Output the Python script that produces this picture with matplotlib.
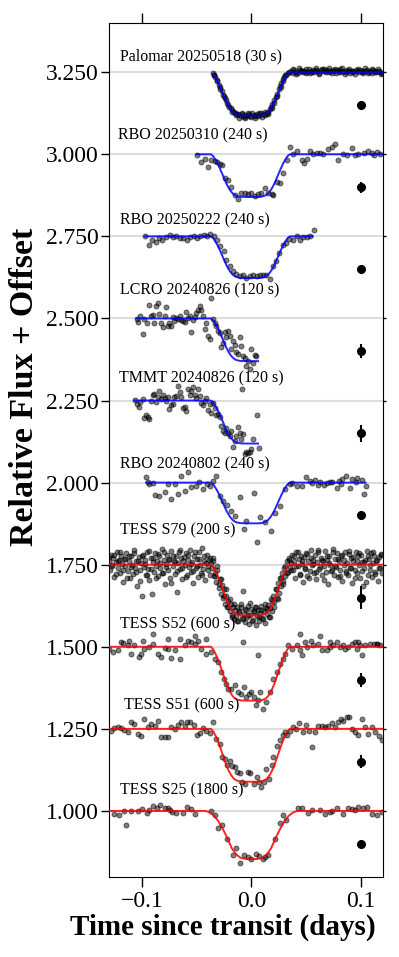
import numpy as np
import matplotlib
matplotlib.use("Agg")
import matplotlib.pyplot as plt

# ---------------- data ----------------
names = ["Palomar 20250518 (30 s)", "RBO 20250310 (240 s)", "RBO 20250222 (240 s)",
         "LCRO 20240826 (120 s)", "TMMT 20240826 (120 s)", "RBO 20240802 (240 s)",
         "TESS S79 (200 s)", "TESS S52 (600 s)", "TESS S51 (600 s)", "TESS S25 (1800 s)"]
offsets = [2.25, 2.0, 1.75, 1.5, 1.25, 1.0, 0.75, 0.5, 0.25, 0.0]
depths = [0.132, 0.130, 0.127, 0.130, 0.131, 0.124, 0.155, 0.164, 0.161, 0.147]
model_start = [-0.035, -0.050, -0.097, -0.105, -0.107, -0.096, -0.130, -0.130, -0.130, -0.130]
model_end = [0.120, 0.120, 0.056, 0.006, 0.006, 0.104, 0.120, 0.120, 0.120, 0.120]
typical_err = [0.003, 0.017, 0.008, 0.021, 0.025, 0.013, 0.034, 0.021, 0.020, 0.006]

# transit shape (fraction of depth) for short cadence and for 1800 s cadence
sharp_x = [-0.130, -0.107, -0.105, -0.097, -0.096, -0.050, -0.037, -0.035, -0.033, -0.031,
           -0.029, -0.027, -0.025, -0.023, -0.021, -0.019, -0.017, -0.015, -0.013, -0.010,
           -0.005, 0.000, 0.004, 0.006, 0.009, 0.011, 0.013, 0.015, 0.017, 0.019,
           0.021, 0.023, 0.025, 0.027, 0.029, 0.031, 0.033, 0.035, 0.056, 0.104, 0.120]
sharp_f = [0, 0, 0, 0, 0, 0, 0.0, 0.04, 0.12, 0.21,
           0.32, 0.44, 0.56, 0.68, 0.78, 0.86, 0.92, 0.96, 0.98, 0.995,
           1.0, 1.0, 1.0, 1.0, 0.995, 0.98, 0.96, 0.92, 0.86, 0.78,
           0.68, 0.56, 0.44, 0.32, 0.21, 0.12, 0.04, 0.0, 0, 0, 0]
smooth_x = [-0.130, -0.042, -0.038, -0.034, -0.030, -0.026, -0.022, -0.018, -0.014, -0.010,
            -0.005, 0.000, 0.005, 0.010, 0.014, 0.018, 0.022, 0.026, 0.030, 0.034,
            0.038, 0.042, 0.120]
smooth_f = [0, 0, 0.03, 0.10, 0.22, 0.38, 0.56, 0.77, 0.90, 0.97,
            0.995, 1.0, 0.995, 0.97, 0.90, 0.77, 0.56, 0.38, 0.22, 0.10,
            0.03, 0, 0]

pal_t = [-0.035, -0.034, -0.033, -0.031, -0.030, -0.029, -0.027, -0.026, -0.025, -0.023,
         -0.022, -0.021, -0.019, -0.018, -0.016, -0.015, -0.013,
         -0.012, -0.010, -0.009, -0.007, -0.006, -0.004, -0.003, -0.001, 0.000, 0.002,
         0.003, 0.005, 0.006, 0.008, 0.009, 0.011, 0.012,
         0.014, 0.015, 0.017, 0.018, 0.019, 0.021, 0.022, 0.023, 0.025, 0.026,
         0.027, 0.029, 0.030, 0.031, 0.033, 0.034,
         0.036, 0.038, 0.039, 0.041, 0.042, 0.044, 0.045, 0.047, 0.048, 0.050,
         0.051, 0.053, 0.054, 0.056, 0.057, 0.059, 0.060, 0.062, 0.063, 0.065,
         0.066, 0.068, 0.069, 0.071, 0.072, 0.074, 0.075, 0.077, 0.078, 0.080,
         0.081, 0.083, 0.084, 0.086, 0.087, 0.089, 0.090, 0.092, 0.093, 0.095,
         0.096, 0.098, 0.099, 0.101, 0.102, 0.104, 0.105, 0.107, 0.108, 0.110,
         0.111, 0.113, 0.114, 0.116, 0.117, 0.119,
         -0.0345, -0.0315, -0.0285, -0.0245, -0.0205, -0.0175, -0.0145,
         -0.0115, -0.0085, -0.0055, -0.0025, 0.0005, 0.0035, 0.0065, 0.0095, 0.0125,
         0.0155, 0.0185, 0.0205, 0.0235, 0.0265, 0.0285, 0.0315,
         0.0375, 0.0405, 0.0435, 0.0465, 0.0495, 0.0525, 0.0555, 0.0585, 0.0615, 0.0645,
         0.0675, 0.0705, 0.0735, 0.0765, 0.0795, 0.0825, 0.0855, 0.0885, 0.0915, 0.0945,
         0.0975, 0.1005, 0.1035, 0.1065, 0.1095, 0.1125, 0.1155, 0.1185]
pal_f = [0.997, 0.990, 0.985, 0.972, 0.962, 0.955, 0.942, 0.930, 0.928, 0.915,
         0.905, 0.900, 0.890, 0.884, 0.880, 0.876, 0.872,
         0.874, 0.866, 0.872, 0.864, 0.870, 0.867, 0.875, 0.868, 0.863, 0.871,
         0.866, 0.874, 0.868, 0.870, 0.876, 0.872, 0.878,
         0.876, 0.880, 0.888, 0.895, 0.902, 0.915, 0.925, 0.935, 0.948, 0.958,
         0.966, 0.978, 0.985, 0.992, 0.998, 1.001,
         1.004, 0.998, 1.006, 1.002, 0.999, 1.007, 1.003, 1.000, 1.005, 1.009,
         1.002, 0.998, 1.004, 1.008, 1.001, 1.006, 1.003, 0.999, 1.007, 1.004,
         1.010, 1.002, 1.006, 1.000, 1.005, 1.008, 1.003, 0.999, 1.006, 1.004,
         1.009, 1.002, 1.005, 1.001, 1.007, 1.003, 0.998, 1.005, 1.002, 1.008,
         1.004, 1.000, 1.006, 1.003, 0.999, 1.005, 1.008, 1.002, 1.004, 0.998,
         1.006, 1.003, 1.000, 1.005, 1.002, 0.998,
         0.992, 0.976, 0.950, 0.920, 0.893, 0.878, 0.870,
         0.862, 0.876, 0.861, 0.872, 0.877, 0.860, 0.875, 0.864, 0.870,
         0.872, 0.890, 0.905, 0.928, 0.955, 0.972, 0.990,
         1.010, 0.996, 1.012, 1.004, 0.997, 1.011, 1.000, 1.013, 0.996, 1.010,
         1.004, 1.012, 0.997, 1.010, 1.000, 1.013, 0.996, 1.010, 1.004, 0.996,
         1.011, 1.000, 1.012, 0.997, 1.010, 1.002, 1.011, 0.995]

rbo0310_t = [-0.0497, -0.0464, -0.0427, -0.0396, -0.0366, -0.0335, -0.0314, -0.0290, -0.0265, -0.0244,
             -0.0213, -0.0183, -0.0152, -0.0122, -0.0091, -0.0061, -0.0030, 0.0000, 0.0030, 0.0061,
             0.0091, 0.0122, 0.0152, 0.0183, 0.0198, 0.0229, 0.0259, 0.0290, 0.0320, 0.0351,
             0.0381, 0.0412, 0.0457, 0.0479, 0.0503, 0.0534, 0.0564, 0.0595, 0.0625, 0.0650,
             0.0701, 0.0732, 0.0762, 0.0793, 0.0839, 0.0869, 0.0915, 0.0945, 0.0976, 0.1022,
             0.1067, 0.1098, 0.1113, 0.1144, 0.1174]
rbo0310_f = [0.997, 0.977, 0.987, 0.962, 0.982, 0.980, 0.977, 0.969, 0.967, 0.929,
             0.923, 0.901, 0.875, 0.865, 0.883, 0.881, 0.878, 0.883, 0.872, 0.878,
             0.883, 0.896, 0.883, 0.878, 0.875, 0.916, 0.913, 0.943, 0.982, 1.022,
             1.002, 1.010, 0.982, 0.974, 0.987, 1.009, 1.002, 1.004, 1.004, 1.002,
             1.017, 1.022, 1.030, 0.984, 1.002, 0.999, 1.020, 0.997, 1.002, 1.004,
             1.010, 1.004, 0.997, 1.007, 1.002]

rbo0222_t = [-0.0967, -0.0936, -0.0906, -0.0875, -0.0845, -0.0814, -0.0784, -0.0747, -0.0717, -0.0686,
             -0.0656, -0.0625, -0.0589, -0.0558, -0.0528, -0.0497, -0.0467, -0.0436, -0.0406, -0.0375,
             -0.0345, -0.0314, -0.0284, -0.0253, -0.0229, -0.0198, -0.0168, -0.0137, -0.0107, -0.0076,
             -0.0046, -0.0015, 0.0015, 0.0046, 0.0076, 0.0107, 0.0137, 0.0168, 0.0192, 0.0223,
             0.0253, 0.0284, 0.0314, 0.0345, 0.0381, 0.0412, 0.0442, 0.0473, 0.0503, 0.0534,
             0.0570]
rbo0222_f = [1.000, 0.974, 0.990, 0.984, 0.995, 0.988, 0.998, 1.003, 0.998, 1.000,
             0.995, 0.995, 0.990, 0.998, 1.000, 0.995, 1.002, 1.005, 1.000, 1.008,
             1.000, 0.990, 0.970, 0.954, 0.929, 0.909, 0.894, 0.884, 0.878, 0.881,
             0.873, 0.878, 0.881, 0.878, 0.881, 0.883, 0.881, 0.870, 0.909, 0.924,
             0.949, 0.975, 0.980, 0.992, 0.988, 1.002, 0.990, 0.998, 0.998, 1.002,
             1.020]

lcro_t = [-0.1046, -0.1037, -0.1013, -0.0991, -0.0976, -0.0952, -0.0937, -0.0915, -0.0900, -0.0885,
          -0.0870, -0.0854, -0.0839, -0.0824, -0.0809, -0.0793, -0.0778, -0.0763, -0.0748, -0.0732,
          -0.0717, -0.0702, -0.0687, -0.0671, -0.0656, -0.0641, -0.0625, -0.0610, -0.0595, -0.0580,
          -0.0564, -0.0549, -0.0534, -0.0519, -0.0503, -0.0488, -0.0473, -0.0458, -0.0442, -0.0427,
          -0.0412, -0.0397, -0.0381, -0.0366, -0.0351, -0.0336, -0.0320, -0.0305, -0.0290, -0.0275,
          -0.0260, -0.0244, -0.0229, -0.0214, -0.0199, -0.0183, -0.0168, -0.0153, -0.0138, -0.0122,
          -0.0107, -0.0092, -0.0077, -0.0061, -0.0046, -0.0031, -0.0015, 0.0000, 0.0015, 0.0030,
          0.0045]
lcro_f = [0.999, 0.990, 1.007, 0.954, 0.997, 0.987, 1.042, 1.009, 1.012, 0.987,
          1.039, 1.047, 1.015, 0.987, 0.974, 1.007, 1.035, 0.978, 0.985, 0.978,
          1.005, 0.992, 1.002, 0.999, 1.009, 0.995, 0.992, 0.990, 1.019, 1.002,
          1.009, 0.958, 0.995, 1.005, 1.017, 1.027, 1.039, 1.025, 1.007, 0.968,
          0.987, 0.948, 0.938, 1.062, 0.999, 0.987, 0.978, 0.961, 0.956, 0.914,
          0.926, 0.958, 0.944, 0.961, 0.946, 0.906, 0.931, 0.918, 0.897, 0.893,
          0.944, 0.916, 0.885, 0.880, 0.855, 0.870, 0.845, 0.906, 0.863, 0.890,
          0.885]

tmmt_t = [-0.1062, -0.1043, -0.1028, -0.1013, -0.0991, -0.0976, -0.0961, -0.0946, -0.0930, -0.0915,
          -0.0900, -0.0885, -0.0870, -0.0854, -0.0839, -0.0824, -0.0809, -0.0793, -0.0778, -0.0763,
          -0.0748, -0.0732, -0.0717, -0.0702, -0.0687, -0.0671, -0.0656, -0.0641, -0.0625, -0.0610,
          -0.0595, -0.0580, -0.0564, -0.0549, -0.0534, -0.0519, -0.0503, -0.0488, -0.0473, -0.0458,
          -0.0442, -0.0427, -0.0412, -0.0397, -0.0381, -0.0366, -0.0351, -0.0336, -0.0320, -0.0305,
          -0.0290, -0.0275, -0.0260, -0.0244, -0.0229, -0.0214, -0.0199, -0.0183, -0.0168, -0.0153,
          -0.0138, -0.0122, -0.0107, -0.0092, -0.0077, -0.0061, -0.0046, -0.0031, -0.0015, 0.0000,
          0.0015, 0.0055, 0.0067, -0.0083]
tmmt_f = [1.002, 0.988, 0.981, 0.996, 1.006, 0.948, 0.955, 0.951, 0.943, 0.999,
          1.016, 1.019, 0.996, 1.012, 1.029, 1.004, 1.016, 1.009, 0.999, 1.012,
          0.973, 0.985, 0.988, 1.012, 1.014, 1.044, 1.026, 1.012, 0.978, 0.981,
          0.968, 1.034, 1.016, 1.029, 1.042, 1.016, 1.009, 1.034, 1.014, 0.994,
          0.985, 0.999, 1.009, 0.971, 0.988, 0.963, 0.991, 0.978, 0.955, 0.958,
          0.951, 0.921, 0.907, 0.900, 0.915, 0.902, 0.892, 0.907, 0.857, 0.877,
          0.892, 0.918, 0.902, 0.884, 0.897, 0.837, 0.842, 0.840, 0.844, 0.852,
          0.882, 0.955, 0.854, 1.036]

rbo0802_t = [-0.0961, -0.0940, -0.0930, -0.0900, -0.0884, -0.0839, -0.0793, -0.0760, -0.0732, -0.0701,
             -0.0671, -0.0640, -0.0610, -0.0579, -0.0549, -0.0503, -0.0480, -0.0442, -0.0410, -0.0381,
             -0.0350, -0.0320, -0.0290, -0.0259, -0.0223, -0.0183, -0.0152, -0.0107, -0.0070, -0.0046,
             0.0021, 0.0046, 0.0076, 0.0122, 0.0174, 0.0213, 0.0259, 0.0305, 0.0351, 0.0366,
             0.0412, 0.0457, 0.0497, 0.0534, 0.0550, 0.0579, 0.0610, 0.0625, 0.0660, 0.0686,
             0.0717, 0.0732, 0.0778, 0.0800, 0.0820, 0.0823, 0.0863, 0.0900, 0.0915, 0.0950,
             0.0961, 0.1006, 0.1028, 0.1046]
rbo0802_f = [1.016, 1.003, 0.995, 1.000, 0.962, 0.958, 0.970, 0.995, 0.950, 0.997,
             0.965, 1.021, 0.975, 1.033, 0.988, 0.990, 1.002, 0.980, 0.997, 0.990,
             1.005, 1.021, 0.960, 0.945, 0.932, 0.914, 0.899, 0.955, 0.859, 0.884,
             0.968, 0.818, 0.894, 0.879, 0.854, 0.909, 0.930, 0.980, 0.995, 0.998,
             0.990, 0.990, 1.016, 1.006, 1.000, 1.009, 0.992, 1.001, 0.994, 0.998,
             1.001, 1.003, 0.985, 1.006, 0.997, 1.011, 1.019, 0.985, 1.011, 1.002,
             1.013, 1.009, 0.965, 0.990]

s79_t = [-0.130, -0.129, -0.128, -0.127, -0.126, -0.125, -0.124, -0.123, -0.122, -0.121,
         -0.120, -0.119, -0.118, -0.117, -0.116, -0.115, -0.114, -0.113, -0.112, -0.111,
         -0.110, -0.109, -0.108, -0.107, -0.106, -0.105, -0.104, -0.103, -0.102, -0.101,
         -0.100, -0.099, -0.098, -0.097, -0.096, -0.095, -0.094, -0.093, -0.092, -0.091,
         -0.090, -0.089, -0.088, -0.087, -0.086, -0.085, -0.084, -0.083, -0.082, -0.081,
         -0.080, -0.079, -0.078, -0.077, -0.076, -0.075, -0.074, -0.073, -0.072, -0.071,
         -0.070, -0.069, -0.068, -0.067, -0.066, -0.065, -0.064, -0.063, -0.062, -0.061,
         -0.060, -0.059, -0.058, -0.057, -0.056, -0.055, -0.054, -0.053, -0.052, -0.051,
         -0.050, -0.049, -0.048, -0.047, -0.046, -0.045, -0.044, -0.043, -0.042, -0.041,
         -0.040, -0.039, -0.038, -0.037, -0.036, -0.035, -0.034, -0.033, -0.032, -0.031,
         -0.030, -0.029, -0.028, -0.027, -0.026, -0.025, -0.024, -0.023, -0.022, -0.021,
         -0.020, -0.019, -0.018, -0.017, -0.016, -0.015, -0.014, -0.013, -0.012, -0.011,
         -0.010, -0.009, -0.008, -0.007, -0.006, -0.005, -0.004, -0.003, -0.002, -0.001,
         0.000, 0.001, 0.002, 0.003, 0.004, 0.005, 0.006, 0.007, 0.008, 0.009,
         0.010, 0.011, 0.012, 0.013, 0.014, 0.015, 0.016, 0.017, 0.018, 0.019,
         0.020, 0.021, 0.022, 0.023, 0.024, 0.025, 0.026, 0.027, 0.028, 0.029,
         0.030, 0.031, 0.032, 0.033, 0.034, 0.035, 0.036, 0.037, 0.038, 0.039,
         0.040, 0.041, 0.042, 0.043, 0.044, 0.045, 0.046, 0.047, 0.048, 0.049,
         0.050, 0.051, 0.052, 0.053, 0.054, 0.055, 0.056, 0.057, 0.058, 0.059,
         0.060, 0.061, 0.062, 0.063, 0.064, 0.065, 0.066, 0.067, 0.068, 0.069,
         0.070, 0.071, 0.072, 0.073, 0.074, 0.075, 0.076, 0.077, 0.078, 0.079,
         0.080, 0.081, 0.082, 0.083, 0.084, 0.085, 0.086, 0.087, 0.088, 0.089,
         0.090, 0.091, 0.092, 0.093, 0.094, 0.095, 0.096, 0.097, 0.098, 0.099,
         0.100, 0.101, 0.102, 0.103, 0.104, 0.105, 0.106, 0.107, 0.108, 0.109,
         0.110, 0.111, 0.112, 0.113, 0.114, 0.115, 0.116, 0.117, 0.118, 0.119,
         # second folded transit
         -0.1295, -0.1275, -0.1255, -0.1235, -0.1215, -0.1195, -0.1175, -0.1155, -0.1135, -0.1115,
         -0.1095, -0.1075, -0.1055, -0.1035, -0.1015, -0.0995, -0.0975, -0.0955, -0.0935, -0.0915,
         -0.0895, -0.0875, -0.0855, -0.0835, -0.0815, -0.0795, -0.0775, -0.0755, -0.0735, -0.0715,
         -0.0695, -0.0675, -0.0655, -0.0635, -0.0615, -0.0595, -0.0575, -0.0555, -0.0535, -0.0515,
         -0.0495, -0.0475, -0.0455, -0.0435, -0.0415, -0.0395, -0.0375,
         -0.0355, -0.0335, -0.0315, -0.0295, -0.0275, -0.0255, -0.0235, -0.0215, -0.0195, -0.0175,
         -0.0155, -0.0135,
         -0.0115, -0.0095, -0.0075, -0.0055, -0.0035, -0.0015, 0.0005, 0.0025, 0.0045, 0.0065,
         0.0085, 0.0105, 0.0125,
         0.0145, 0.0165, 0.0185, 0.0205, 0.0225, 0.0245, 0.0265, 0.0285, 0.0305, 0.0325, 0.0345,
         0.0365, 0.0385, 0.0405, 0.0425, 0.0445, 0.0465, 0.0485, 0.0505, 0.0525, 0.0545,
         0.0565, 0.0585, 0.0605, 0.0625, 0.0645, 0.0665, 0.0685, 0.0705, 0.0725, 0.0745,
         0.0765, 0.0785, 0.0805, 0.0825, 0.0845, 0.0865, 0.0885, 0.0905, 0.0925, 0.0945,
         0.0965, 0.0985, 0.1005, 0.1025, 0.1045, 0.1065, 0.1085, 0.1105, 0.1125, 0.1145,
         0.1165, 0.1185]
s79_f = [1.012, 0.985, 1.031, 0.998, 1.020, 0.962, 1.008, 1.040, 0.990, 1.015,
         0.975, 1.025, 1.003, 0.948, 1.018, 0.995, 1.035, 0.980, 1.010, 0.958,
         1.028, 1.000, 0.972, 1.045, 0.990, 1.012, 0.935, 1.022, 0.983, 1.005,
         0.905, 1.030, 0.992, 1.015, 0.968, 1.040, 0.986, 0.952, 1.020, 0.910,
         1.008, 0.978, 1.036, 0.995, 1.012, 0.965, 1.025, 0.990, 1.048, 0.975,
         1.015, 0.940, 1.002, 1.030, 0.985, 1.018, 0.960, 1.042, 0.995, 1.010,
         0.972, 1.028, 0.918, 1.005, 1.038, 0.988, 1.020, 0.955, 1.012, 0.998,
         1.035, 0.968, 1.015, 0.992, 1.045, 0.978, 1.008, 0.945, 1.025, 0.990,
         1.018, 0.962, 1.038, 1.000, 0.975, 1.050, 0.988, 1.012, 0.952, 1.030,
         0.995, 1.015, 0.970, 1.005, 0.990, 1.020, 0.965, 0.975, 0.948, 0.995,
         0.930, 0.955, 0.912, 0.938, 0.900, 0.925, 0.880, 0.905, 0.872, 0.890,
         0.858, 0.880, 0.848, 0.870, 0.835, 0.862, 0.845, 0.870, 0.828, 0.855,
         0.880, 0.838, 0.921, 0.850, 0.825, 0.862, 0.840, 0.875, 0.818, 0.848,
         0.865, 0.832, 0.858, 0.872, 0.815, 0.845, 0.862, 0.830, 0.852, 0.875,
         0.838, 0.860, 0.822, 0.868, 0.850, 0.878, 0.842, 0.868, 0.895, 0.860,
         0.905, 0.885, 0.925, 0.900, 0.945, 0.915, 0.960, 0.935, 0.975, 0.950,
         0.990, 0.965, 1.010, 0.978, 1.020, 0.992, 1.005, 1.030, 0.985, 1.012,
         0.960, 1.040, 0.995, 1.018, 0.972, 1.028, 1.002, 0.948, 1.022, 0.990,
         1.035, 0.965, 1.010, 0.982, 1.045, 0.998, 1.015, 0.975, 1.030, 0.955,
         1.008, 1.038, 0.988, 1.020, 0.968, 1.012, 0.995, 1.042, 0.978, 1.015,
         0.940, 1.025, 1.000, 0.985, 1.048, 0.970, 1.018, 0.992, 1.035, 0.962,
         1.010, 0.985, 1.028, 0.950, 1.015, 1.040, 0.980, 1.005, 0.968, 1.032,
         0.990, 1.020, 0.945, 1.012, 0.985, 1.038, 0.975, 1.025, 0.998, 0.958,
         1.030, 1.008, 0.935, 0.990, 1.015, 1.042, 0.970, 1.018, 0.985, 1.035,
         0.962, 1.005, 1.028, 0.978, 1.012, 0.950, 1.022, 0.990, 1.032, 0.975,
         # second folded transit
         1.022, 0.995, 1.030, 0.972, 1.010, 1.040, 0.985, 1.018, 0.960, 1.026,
         0.992, 1.035, 0.978, 1.012, 0.950, 1.028, 1.002, 0.968, 1.042, 0.988,
         1.020, 0.958, 1.032, 1.005, 0.975, 1.038, 0.992, 1.015, 0.945, 1.025,
         1.008, 0.982, 1.045, 0.990, 1.022, 0.962, 1.030, 1.002, 0.980, 1.040,
         0.995, 1.018, 0.970, 1.028, 1.005, 0.985, 1.020,
         1.010, 0.965, 0.985, 0.940, 0.955, 0.905, 0.925, 0.870, 0.895, 0.842,
         0.880, 0.830,
         0.858, 0.872, 0.835, 0.865, 0.848, 0.882, 0.828, 0.855, 0.870, 0.840,
         0.862, 0.835, 0.880,
         0.865, 0.840, 0.890, 0.870, 0.925, 0.895, 0.960, 0.940, 0.995, 0.975, 1.015,
         0.985, 1.025, 0.995, 1.040, 0.970, 1.012, 0.988, 1.032, 0.960, 1.020,
         1.002, 0.978, 1.045, 0.992, 1.015, 0.952, 1.028, 1.005, 0.982, 1.038,
         0.995, 1.018, 0.965, 1.030, 1.000, 0.975, 1.042, 0.990, 1.022, 0.958,
         1.012, 1.035, 0.980, 1.008, 0.948, 1.025, 0.998, 1.040, 0.972, 1.015,
         0.990, 1.030]

s52_t = [-0.1296, -0.1266, -0.1220, -0.1174, -0.1128, -0.1098, -0.1067, -0.1028, -0.1006, -0.0976,
         -0.0930, -0.0900, -0.0854, -0.0823, -0.0793, -0.0763, -0.0732, -0.0701, -0.0656, -0.0610,
         -0.0579, -0.0549, -0.0518, -0.0488, -0.0457, -0.0418, -0.0366, -0.0335, -0.0305, -0.0274,
         -0.0253, -0.0235, -0.0213, -0.0183, -0.0152, -0.0122, -0.0091, -0.0070, -0.0046, -0.0021,
         0.0000, 0.0021, 0.0040, 0.0061, 0.0082, 0.0107, 0.0131, 0.0168, 0.0198, 0.0229,
         0.0259, 0.0284, 0.0305, 0.0335, 0.0366, 0.0412, 0.0442, 0.0457, 0.0488, 0.0509,
         0.0540, 0.0564, 0.0610, 0.0640, 0.0686, 0.0717, 0.0747, 0.0778, 0.0808, 0.0833,
         0.0854, 0.0884, 0.0915, 0.0945, 0.0961, 0.0991, 0.1006, 0.1037, 0.1083, 0.1113,
         0.1144, 0.1174,
         -0.1189, -0.1113, -0.0991, -0.0900, -0.0762, -0.0656, -0.0518, -0.0412, -0.0076, 0.0442,
         0.0625, 0.0717, 0.0976, 0.1144, 0.0061]
s52_f = [0.994, 0.984, 0.989, 1.012, 1.004, 0.979, 1.004, 0.969, 0.979, 0.994,
         0.999, 1.009, 0.979, 0.969, 0.996, 0.992, 0.966, 0.989, 0.964, 1.004,
         1.019, 1.014, 1.009, 1.019, 0.994, 0.979, 0.984, 0.964, 0.953, 0.923,
         0.903, 0.888, 0.872, 0.872, 0.883, 0.862, 0.857, 0.877, 0.847, 0.857,
         0.862, 0.847, 0.822, 0.837, 0.862, 0.812, 0.832, 0.862, 0.903, 0.923,
         0.948, 0.964, 0.979, 1.004, 0.994, 1.004, 0.989, 0.974, 1.014, 0.999,
         1.019, 1.004, 1.009, 0.989, 0.989, 0.999, 1.004, 1.014, 0.999, 1.004,
         0.994, 0.999, 1.009, 1.014, 0.994, 1.004, 0.974, 1.004, 1.009, 1.009,
         1.009, 1.004,
         1.014, 1.019, 1.019, 1.039, 1.024, 1.024, 1.034, 1.024, 1.014, 1.039,
         1.034, 1.014, 1.014, 1.009, 0.974]

s51_t = [-0.1281, -0.1250, -0.1220, -0.1189, -0.1159, -0.1128, -0.1098, -0.1067, -0.1037, -0.1006,
         -0.0976, -0.0945, -0.0915, -0.0884, -0.0854, -0.0823, -0.0793, -0.0762, -0.0732, -0.0701,
         -0.0671, -0.0640, -0.0610, -0.0589, -0.0558, -0.0528, -0.0497, -0.0473, -0.0442, -0.0412,
         -0.0381, -0.0351, -0.0320, -0.0290, -0.0265, -0.0244, -0.0223, -0.0198, -0.0174, -0.0152,
         -0.0131, -0.0107, -0.0082, -0.0061, -0.0030, -0.0009, 0.0021, 0.0046, 0.0070, 0.0091,
         0.0113, 0.0137, 0.0162, 0.0183, 0.0198, 0.0229, 0.0259, 0.0284, 0.0305, 0.0326,
         0.0351, 0.0375, 0.0406, 0.0436, 0.0467, 0.0497, 0.0528, 0.0549, 0.0579, 0.0610,
         0.0640, 0.0671, 0.0701, 0.0732, 0.0762, 0.0793, 0.0814, 0.0839, 0.0869, 0.0894,
         0.0915, 0.0945, 0.0976, 0.1006, 0.1037, 0.1067, 0.1098, 0.1128, 0.1159, 0.1189]
s51_f = [0.995, 1.002, 1.005, 1.002, 0.998, 0.990, 1.020, 1.015, 0.985, 0.978,
         1.030, 1.005, 1.015, 1.008, 1.025, 0.975, 0.975, 0.975, 1.005, 1.000,
         1.012, 1.020, 1.008, 1.022, 1.020, 1.012, 0.980, 0.988, 1.002, 0.995,
         0.988, 1.020, 0.970, 0.954, 0.914, 0.909, 0.891, 0.901, 0.887, 0.884,
         0.870, 0.866, 0.838, 0.833, 0.868, 0.866, 0.833, 0.853, 0.838, 0.823,
         0.838, 0.878, 0.848, 0.889, 0.914, 0.949, 0.965, 0.980, 0.990, 0.980,
         0.995, 1.005, 1.000, 1.018, 0.990, 1.012, 0.992, 0.944, 0.990, 1.008,
         1.010, 1.005, 1.010, 1.018, 1.005, 1.020, 1.030, 1.025, 1.035, 1.035,
         1.000, 0.990, 0.980, 1.030, 1.005, 0.985, 1.005, 0.990, 0.978, 0.965]

s25_t = [-0.1250, -0.1205, -0.1159, -0.1144, -0.1098, -0.1037, -0.0997, -0.0955, -0.0930, -0.0894,
         -0.0863, -0.0833, -0.0793, -0.0763, -0.0747, -0.0723, -0.0686, -0.0625, -0.0589, -0.0549,
         -0.0518, -0.0366, -0.0335, -0.0305, -0.0265, -0.0223, -0.0168, -0.0107, -0.0137, -0.0070,
         -0.0030, 0.0000, 0.0040, 0.0070, 0.0107, 0.0122, 0.0152, 0.0213, 0.0259, 0.0284,
         0.0314, 0.0427, 0.0457, 0.0518, 0.0549, 0.0625, 0.0671, 0.0717, 0.0732, 0.0778,
         0.0839, 0.0884, 0.0915, 0.0945, 0.0976, 0.1015, 0.1052, 0.1098, 0.1144, 0.1189]
s25_f = [0.992, 0.987, 0.999, 0.956, 0.999, 0.999, 1.007, 0.995, 1.002, 1.015,
         1.009, 1.017, 1.009, 1.009, 1.002, 0.997, 0.995, 0.995, 1.012, 1.007,
         0.992, 0.999, 0.989, 0.948, 0.958, 0.916, 0.865, 0.840, 0.886, 0.867,
         0.860, 0.855, 0.870, 0.863, 0.853, 0.860, 0.867, 0.916, 0.962, 0.987,
         0.972, 1.009, 1.009, 0.995, 1.002, 1.002, 0.992, 0.997, 0.999, 1.009,
         0.992, 1.009, 1.007, 1.002, 1.012, 1.009, 1.012, 0.992, 0.989, 0.997]

times = [pal_t, rbo0310_t, rbo0222_t, lcro_t, tmmt_t, rbo0802_t, s79_t, s52_t, s51_t, s25_t]
fluxes = [pal_f, rbo0310_f, rbo0222_f, lcro_f, tmmt_f, rbo0802_f, s79_f, s52_f, s51_f, s25_f]

# label placement (data coordinates, text centre)
label_x = [-0.1196, -0.1214, -0.1199, -0.1199, -0.1205, -0.1199, -0.1199, -0.1199, -0.1159, -0.1199]
label_y = [3.298, 3.058, 2.798, 2.587, 2.317, 2.055, 1.855, 1.568, 1.322, 1.063]

# ---------------- plot ----------------
plt.rcParams['font.family'] = ['Liberation Serif', 'DejaVu Serif']

fig, ax = plt.subplots(figsize=(3.99, 9.57), dpi=100)
fig.subplots_adjust(left=0.273, right=0.960, top=0.976, bottom=0.084)

sharp_x = np.array(sharp_x)
sharp_f = np.array(sharp_f)
smooth_x = np.array(smooth_x)
smooth_f = np.array(smooth_f)

for i in range(len(names)):
    off = offsets[i]
    ax.plot(times[i], np.array(fluxes[i]) + off, 'o', color='k', ms=3.6, alpha=0.5,
            mew=0.7, zorder=2)
    if i == 9:
        mx, mf = smooth_x, smooth_f
    else:
        mx, mf = sharp_x, sharp_f
    keep = (mx >= model_start[i] - 1e-9) & (mx <= model_end[i] + 1e-9)
    col = 'red' if names[i].startswith('TESS') else 'blue'
    ax.plot(mx[keep], off + 1 - depths[i] * mf[keep], '-', color=col, lw=1.4,
            alpha=0.85, zorder=3)
    ax.errorbar(0.1, off + 0.9, yerr=typical_err[i], fmt='o', color='k', ms=5.5,
                elinewidth=1.5, capsize=0, zorder=4)
    ax.text(label_x[i], label_y[i], names[i], fontsize=11.5, ha='left', va='center',
            zorder=5)

ax.set_xlim(-0.13, 0.12)
ax.set_ylim(0.80, 3.40)
ax.set_yticks([1.0, 1.25, 1.5, 1.75, 2.0, 2.25, 2.5, 2.75, 3.0, 3.25])
ax.set_yticklabels(['%.3f' % v for v in ax.get_yticks()])
ax.set_xticks([-0.1, 0.0, 0.1])
ax.set_xticklabels(['\u22120.1', '0.0', '0.1'])

ax.yaxis.grid(True, color='#dddddd', lw=1.5)
ax.set_axisbelow(True)

ax.tick_params(axis='both', direction='out', top=True, right=True, labelsize=17,
               width=1.0)
ax.tick_params(axis='x', length=7.5, pad=3)
ax.tick_params(axis='y', length=5.5, pad=2)
for t in ax.yaxis.get_major_ticks():
    t.tick2line.set_markersize(2.5)

ax.set_ylabel('Relative Flux + Offset', fontsize=24.5, fontweight='bold')
ax.yaxis.set_label_coords(-0.25, 0.574)
ax.set_xlabel('Time since transit (days)', fontsize=21, fontweight='bold')
ax.xaxis.set_label_coords(0.416, -0.043)

fig.savefig('out.png', dpi=100)
